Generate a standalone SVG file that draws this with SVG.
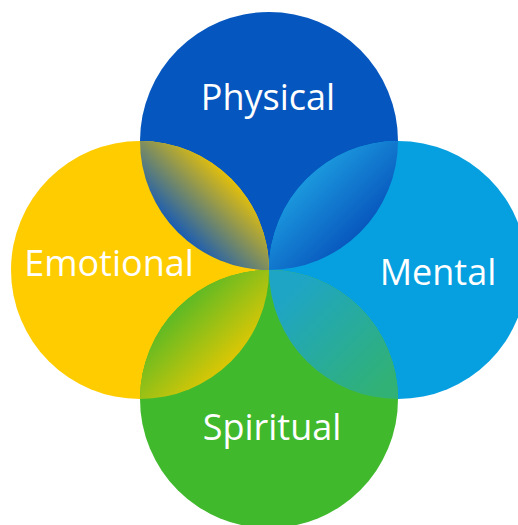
<svg xmlns="http://www.w3.org/2000/svg" width="518" height="525" viewBox="0 0 518 525">
  <style>
    .label { font-family: "Open Sans", "Noto Sans", "Liberation Sans", sans-serif; font-size: 36px; fill: #ffffff; text-anchor: middle; }
  </style>
  <defs>
    <!-- overlap shading: each lens blends from one circle's colour to the other across its width -->
    <linearGradient id="gTL" gradientUnits="userSpaceOnUse" x1="178" y1="232" x2="231" y2="179">
      <stop offset="0" stop-color="#1B5DB2"/>
      <stop offset="1" stop-color="#E2BF0C"/>
    </linearGradient>
    <linearGradient id="gTR" gradientUnits="userSpaceOnUse" x1="307" y1="179" x2="360" y2="232">
      <stop offset="0" stop-color="#1B97DD"/>
      <stop offset="1" stop-color="#0858BE"/>
    </linearGradient>
    <linearGradient id="gBL" gradientUnits="userSpaceOnUse" x1="178" y1="308" x2="231" y2="361">
      <stop offset="0" stop-color="#5EBA24"/>
      <stop offset="1" stop-color="#DAC705"/>
    </linearGradient>
    <linearGradient id="gBR" gradientUnits="userSpaceOnUse" x1="290" y1="290" x2="385" y2="385">
      <stop offset="0" stop-color="#1EA5C6"/>
      <stop offset="1" stop-color="#31B175"/>
    </linearGradient>
  </defs>

  <!-- four circles meeting at (269,270) -->
  <g id="physical">
    <circle cx="269" cy="141" r="129" fill="#0556BE"/>
  </g>
  <g id="emotional">
    <circle cx="140" cy="270" r="129" fill="#FFCC00"/>
  </g>
  <g id="mental">
    <circle cx="398" cy="270" r="129" fill="#06A0E0"/>
  </g>
  <g id="spiritual">
    <circle cx="269" cy="399" r="129" fill="#41B92D"/>
  </g>

  <!-- overlapping lenses -->
  <g id="overlaps">
    <path d="M140 141 A129 129 0 0 1 269 270 A129 129 0 0 1 140 141 Z" fill="url(#gTL)"/>
    <path d="M398 141 A129 129 0 0 0 269 270 A129 129 0 0 0 398 141 Z" fill="url(#gTR)"/>
    <path d="M269 270 A129 129 0 0 0 140 399 A129 129 0 0 0 269 270 Z" fill="url(#gBL)"/>
    <path d="M269 270 A129 129 0 0 1 398 399 A129 129 0 0 1 269 270 Z" fill="url(#gBR)"/>
  </g>

  <!-- labels -->
  <g id="labels">
    <text class="label" x="268" y="110">Physical</text>
    <text class="label" x="109" y="276">Emotional</text>
    <text class="label" x="438" y="285">Mental</text>
    <text class="label" x="272" y="440">Spiritual</text>
  </g>
</svg>
